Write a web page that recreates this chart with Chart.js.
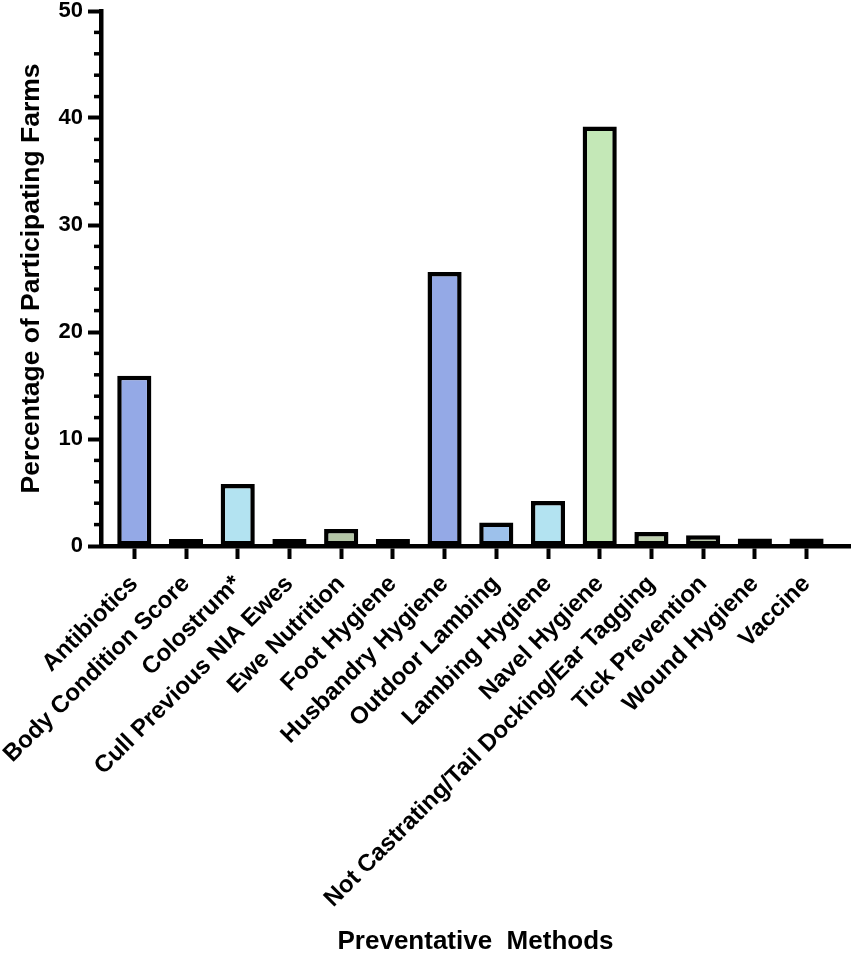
<!DOCTYPE html>
<html>
<head>
<meta charset="utf-8">
<script src="https://cdn.jsdelivr.net/npm/chart.js@4"></script>
<style>
  html, body { margin: 0; padding: 0; background: #fff; }
  #wrap { width: 851px; height: 953px; }
</style>
</head>
<body>
<div id="wrap"><canvas id="myChart" width="851" height="953"></canvas></div>
<script>
// categories and values
var categories = ['Antibiotics', 'Body Condition Score', 'Colostrum*', 'Cull Previous NIA Ewes',
    'Ewe Nutrition', 'Foot Hygiene', 'Husbandry Hygiene', 'Outdoor Lambing', 'Lambing Hygiene',
    'Navel Hygiene', 'Not Castrating/Tail Docking/Ear Tagging', 'Tick Prevention', 'Wound Hygiene', 'Vaccine'];
var percentFarms = [15.9, 0.65, 5.8, 0.65, 1.6, 0.65, 25.6, 2.2, 4.2, 39.2, 1.3, 1.0, 0.7, 0.7];
var barColors = ['#94a9e6', '#6f7f72', '#b3e3f1', '#6f7f72', '#b3c5a6', '#6f7f72', '#94a9e6',
    '#9dc1eb', '#b3e3f1', '#c4e8b7', '#bfd2b0', '#b6c6a8', '#6f7f72', '#6f7f72'];
var yTicks = [0, 10, 20, 30, 40, 50];
var yMinorStep = 2;

var font = "'Liberation Sans', Arial, Helvetica, sans-serif";

// short minor ticks between the labelled ones on the y axis
var minorTicks = {
    id: 'minorTicks',
    afterDraw: function(chart) {
        var y = chart.scales.y;
        var ctx = chart.ctx;
        var x0 = chart.chartArea.left;
        ctx.save();
        ctx.strokeStyle = '#000';
        ctx.lineWidth = 3.5;
        for (var v = yTicks[0]; v <= yTicks[yTicks.length - 1]; v += yMinorStep) {
            if (yTicks.indexOf(v) >= 0) continue;
            var py = y.getPixelForValue(v);
            ctx.beginPath();
            ctx.moveTo(x0 - 7, py);
            ctx.lineTo(x0, py);
            ctx.stroke();
        }
        ctx.restore();
    }
};

var ctx = document.getElementById('myChart');
var chart = new Chart(ctx, {
    type: 'bar',
    data: {
        datasets: [{
            data: categories.map(function(c, i) { return {x: i, y: percentFarms[i]}; }),
            backgroundColor: barColors,
            borderColor: '#000',
            borderWidth: 4.5,
            borderSkipped: false,
            barPercentage: 0.66,
            categoryPercentage: 1
        }]
    },
    options: {
        responsive: false,
        animation: false,
        layout: { padding: { top: 11, right: 1, left: 0, bottom: 0 } },
        plugins: { legend: { display: false }, tooltip: { enabled: false } },
        scales: {
            x: {
                type: 'linear',
                min: -0.644,
                max: 13.84,
                offset: false,
                grid: { offset: false, drawOnChartArea: false, drawTicks: true, tickLength: 13, tickWidth: 4, tickColor: '#000' },
                border: { display: true, color: '#000', width: 4.5 },
                ticks: {
                    stepSize: 1,
                    includeBounds: false,
                    autoSkip: false,
                    maxRotation: 45,
                    minRotation: 45,
                    padding: 11,
                    color: '#000',
                    font: { family: font, size: 24, weight: 'bold' },
                    callback: function(v) { return categories[v]; }
                },
                title: {
                    display: true,
                    text: 'Preventative  Methods',
                    color: '#000',
                    font: { family: font, size: 26, weight: 'bold', lineHeight: 0.85 },
                    padding: { top: 0, bottom: 0 }
                },
                afterFit: function(scale) { scale.height = 407; }
            },
            y: {
                min: 0,
                max: 50,
                grid: { drawOnChartArea: false, drawTicks: true, tickLength: 13, tickWidth: 4, tickColor: '#000' },
                border: { display: true, color: '#000', width: 4.5 },
                ticks: {
                    stepSize: 10,
                    padding: 5,
                    color: '#000',
                    font: { family: font, size: 22, weight: 'bold', lineHeight: 1 }
                },
                title: {
                    display: true,
                    text: 'Percentage of Participating Farms',
                    color: '#000',
                    font: { family: font, size: 26.5, weight: 'bold', lineHeight: 1 },
                    padding: { top: 18, bottom: 0 }
                },
                afterFit: function(scale) {
                    scale.width = 101;
                    scale.paddingTop = 0;
                    scale.paddingBottom = 0;
                }
            }
        }
    },
    plugins: [minorTicks]
});
</script>
</body>
</html>
